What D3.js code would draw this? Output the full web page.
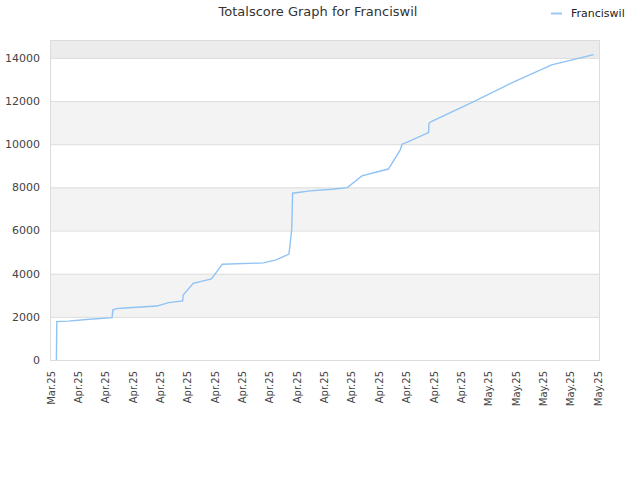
<!DOCTYPE html>
<html>
<head>
<meta charset="utf-8">
<script src="https://cdn.jsdelivr.net/npm/d3@7"></script>
<style>
  body { margin: 0; background: #fff; }
  text { font-family: "DejaVu Sans", sans-serif; }
  .title { font-size: 13px; fill: #333; }
  .legendText { font-size: 11px; fill: #222; }
  .yLabel { font-size: 11px; fill: #444; }
  .xLabel { font-size: 10px; fill: #444; }
</style>
</head>
<body>
<div id="viz"></div>
<script>
playerName = 'Franciswil';

// days since start
days = [0.7, 0.75, 2, 4, 6.8, 6.9, 7.3, 8.2, 11.7, 13.0, 14.55, 14.6, 15.7, 17.7, 18.9,
		23.4, 24.8, 26.2, 26.5, 26.6, 28.5, 30.9, 32.6, 34.2, 35.7, 37.1, 38.4, 38.6, 39.1,
		41.5, 41.55, 41.8, 46.4, 50.8, 55.0, 59.6];

scores = [0, 1780, 1800, 1880, 1960, 2330, 2380, 2410, 2500, 2660, 2740, 3010, 3550, 3760, 4440,
		4500, 4640, 4910, 6030, 7730, 7840, 7910, 7990, 8530, 8700, 8850, 9740, 10000, 10090,
		10540, 10970, 11050, 11960, 12880, 13680, 14150];

tickDays = [0, 3, 6, 9, 12, 15, 18, 21, 24, 27, 30, 33, 36, 39, 42, 45, 48, 51, 54, 57, 60];
tickLabels = ['Mar.25', 'Apr.25', 'Apr.25', 'Apr.25', 'Apr.25', 'Apr.25', 'Apr.25', 'Apr.25',
		'Apr.25', 'Apr.25', 'Apr.25', 'Apr.25', 'Apr.25', 'Apr.25', 'Apr.25', 'Apr.25',
		'May.25', 'May.25', 'May.25', 'May.25', 'May.25'];

yTicks = [0, 2000, 4000, 6000, 8000, 10000, 12000, 14000];

margin = {top: 40, right: 40, bottom: 120, left: 50};
width = 550;
height = 320;

xScale = d3.scaleLinear()
	.domain([0, 60.3])
	.range([0, width]);

yScale = d3.scaleLinear()
	.domain([0, 14830])
	.range([height, 0]);

svg = d3.select('#viz').append('svg')
	.attr('width', 640)
	.attr('height', 480);

g = svg.append('g')
	.attr('transform', 'translate(' + margin.left + ',' + margin.top + ')');

// alternating bands
bands = d3.range(yTicks.length).map(function(i){
	return [yTicks[i], i < yTicks.length - 1 ? yTicks[i + 1] : yScale.domain()[1]];
});

g.selectAll('rect.band')
	.data(bands)
	.enter()
	.append('rect')
	.attr('class', 'band')
	.attr('x', 0)
	.attr('width', width)
	.attr('y', d => yScale(d[1]))
	.attr('height', d => yScale(d[0]) - yScale(d[1]))
	.attr('fill', function(d, i){
		if (i == bands.length - 1) { return '#ececec'; }
		return i % 2 == 1 ? '#f3f3f3' : '#fff';
	});

// grid lines
g.selectAll('line.grid')
	.data(yTicks)
	.enter()
	.append('line')
	.attr('class', 'grid')
	.attr('x1', 0)
	.attr('x2', width)
	.attr('y1', d => yScale(d) + 0.5)
	.attr('y2', d => yScale(d) + 0.5)
	.attr('stroke', '#dcdcdc');

g.append('rect')
	.attr('x', 0.5)
	.attr('y', 0.5)
	.attr('width', width - 1)
	.attr('height', height)
	.attr('fill', 'none')
	.attr('stroke', '#dcdcdc');

// y labels
g.selectAll('text.yLabel')
	.data(yTicks)
	.enter()
	.append('text')
	.attr('class', 'yLabel')
	.attr('x', -10)
	.attr('y', d => yScale(d))
	.attr('dy', '.35em')
	.attr('text-anchor', 'end')
	.text(d => d);

// x labels
g.selectAll('text.xLabel')
	.data(tickDays)
	.enter()
	.append('text')
	.attr('class', 'xLabel')
	.attr('transform', d => 'translate(' + (xScale(d) + 1) + ',' + (height + 11) + ') rotate(-90)')
	.attr('dy', '.35em')
	.attr('text-anchor', 'end')
	.text((d, i) => tickLabels[i]);

// score line
line = d3.line()
	.x((d, i) => xScale(days[i]))
	.y(d => yScale(d));

g.append('path')
	.datum(scores)
	.attr('d', line)
	.attr('fill', 'none')
	.attr('stroke', '#8fc3f5')
	.attr('stroke-width', 1.4);

// title
svg.append('text')
	.attr('class', 'title')
	.attr('x', 318)
	.attr('y', 16)
	.attr('text-anchor', 'middle')
	.text('Totalscore Graph for ' + playerName);

// legend
svg.append('line')
	.attr('x1', 551)
	.attr('x2', 562)
	.attr('y1', 13.5)
	.attr('y2', 13.5)
	.attr('stroke', '#9ac8f6')
	.attr('stroke-width', 2);

svg.append('text')
	.attr('class', 'legendText')
	.attr('x', 571)
	.attr('y', 17)
	.text(playerName);
</script>
</body>
</html>
